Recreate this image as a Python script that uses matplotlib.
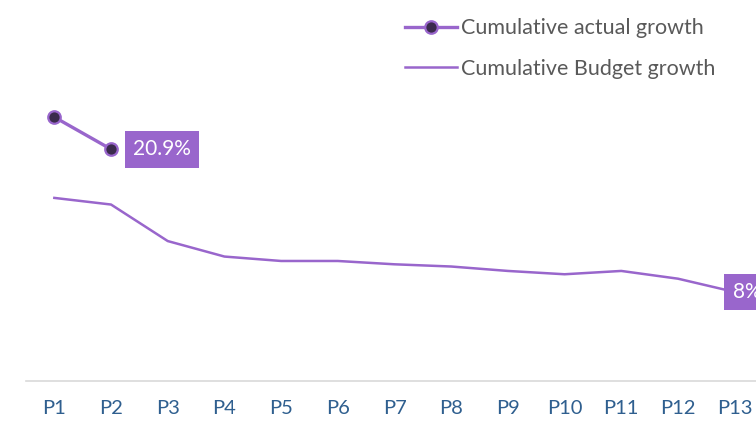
import matplotlib.pyplot as plt

periods = ['P1', 'P2', 'P3', 'P4', 'P5', 'P6', 'P7', 'P8', 'P9', 'P10', 'P11', 'P12', 'P13']
actual = [23.8, 20.9]
budget = [16.5, 15.9, 12.6, 11.2, 10.8, 10.8, 10.5, 10.3, 9.9, 9.6, 9.9, 9.2, 8.0]

purple = '#9966CC'
dark = '#3B2B4D'

plt.rcParams['font.family'] = ['Lato', 'DejaVu Sans']

fig = plt.figure(figsize=(7.56, 4.26), dpi=100)
# axes run slightly past the right edge, so the last label is clipped
ax = fig.add_axes([26 / 756, 45.5 / 426, 737 / 756, 332 / 426])

x = list(range(len(periods)))
ax.plot(x[:len(actual)], actual, color=purple, lw=2.4, marker='o', ms=9,
        mfc=dark, mec=purple, mew=1.6, label='Cumulative actual growth', zorder=3)
ax.plot(x, budget, color=purple, lw=1.8, label='Cumulative Budget growth', zorder=2)

box = dict(boxstyle='square,pad=0.4', fc=purple, ec='none')
ax.annotate(f'{actual[-1]:.1f}%', (x[len(actual) - 1], actual[-1]), xytext=(16, 0),
            textcoords='offset points', va='center', ha='left', color='white',
            fontsize=15, bbox=box, zorder=4)
ax.annotate(f'{budget[-1]:.0f}%', (x[-1], budget[-1]), xytext=(-1.5, 0),
            textcoords='offset points', va='center', ha='left', color='white',
            fontsize=15, bbox=box, zorder=4)

ax.set_xlim(-0.5, len(periods) - 0.5)
ax.set_ylim(0, 30)
ax.set_xticks(x)
ax.set_xticklabels(periods, color='#2F5F8F', fontsize=14.5)
ax.tick_params(axis='x', length=0, pad=14)
ax.set_yticks([])
for s in ['top', 'right', 'left']:
    ax.spines[s].set_visible(False)
ax.spines['bottom'].set_color('#D9D9D9')
ax.spines['bottom'].set_linewidth(1.2)

leg = ax.legend(loc='upper left', bbox_to_anchor=(360 / 737, 1.15), frameon=False,
                fontsize=15.5, handlelength=2.4, handletextpad=0.2, labelspacing=0.95,
                labelcolor='#595959')

fig.savefig('out.png', dpi=100)
